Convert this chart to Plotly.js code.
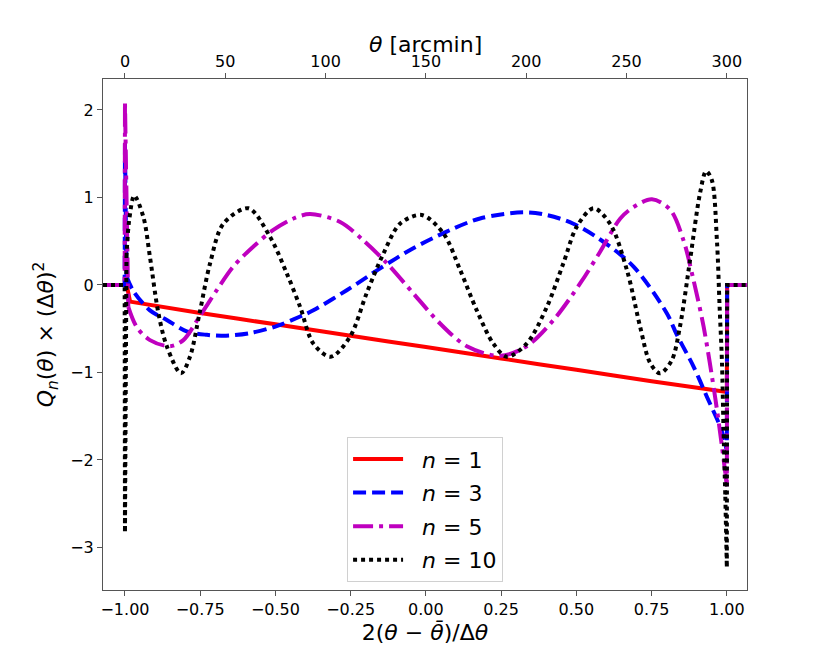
<!DOCTYPE html>
<html>
<head>
<meta charset="utf-8">
<script src="https://cdn.plot.ly/plotly-3.0.1.min.js"></script>
<style>
  body { margin: 0; background: #fff; }
  #chart { width: 830px; height: 664px; }
</style>
</head>
<body>
<div id="chart"></div>
<script>
// values, x = 2(theta - mean)/dtheta
var n1X = [-1.073, -1.001, -1.0, -0.983, -0.75, -0.5, -0.25, 0, 0.25, 0.5, 0.75, 0.995, 1.0, 1.001, 1.067]
var n1Y = [0, 0, 0.1, -0.19, -0.32, -0.45, -0.58, -0.71, -0.84, -0.97, -1.10, -1.22, -1.22, 0, 0]

var n3X = [-1.073, -1.001, -1.0, -0.995, -0.972, -0.917, -0.861, -0.795, -0.728, -0.673, -0.585, -0.496,
           -0.418, -0.374, -0.263, -0.152, -0.042, 0.069, 0.18, 0.324, 0.402, 0.49, 0.579, 0.69, 0.80,
           0.834, 0.889, 0.934, 0.978, 0.995, 1.0, 1.001, 1.067]
var n3Y = [0, 0, 1.62, 0.10, -0.07, -0.29, -0.40, -0.53, -0.57, -0.58, -0.55, -0.47,
           -0.36, -0.29, -0.06, 0.19, 0.42, 0.61, 0.76, 0.83, 0.80, 0.70, 0.52, 0.21, -0.32,
           -0.57, -0.93, -1.28, -1.62, -1.81, -1.9, 0, 0]

var n5X = [-1.073, -1.001, -1.0, -0.989, -0.961, -0.917, -0.85, -0.806, -0.752, -0.695, -0.64, -0.573,
           -0.507, -0.44, -0.385, -0.285, -0.208, -0.13, -0.042, 0.047, 0.136, 0.247, 0.335, 0.424,
           0.513, 0.579, 0.646, 0.69, 0.751, 0.812, 0.856, 0.889, 0.923, 0.961, 0.984, 0.995, 1.0, 1.001, 1.067]
var n5Y = [0, 0, 2.09, -0.25, -0.48, -0.63, -0.70, -0.63, -0.36, -0.06, 0.21, 0.44,
           0.63, 0.76, 0.81, 0.72, 0.51, 0.25, -0.095, -0.44, -0.70, -0.81, -0.70, -0.40,
           0.02, 0.38, 0.76, 0.89, 0.98, 0.86, 0.51, 0.06, -0.48, -1.28, -1.85, -2.15, -2.3, 0, 0]

var n10X = [-1.073, -1.001, -1.0, -0.995, -0.986, -0.969, -0.939, -0.917, -0.889, -0.861, -0.814, -0.784,
            -0.752, -0.717, -0.673, -0.59, -0.518, -0.462, -0.418, -0.374, -0.316, -0.252, -0.197, -0.141,
            -0.086, -0.014, 0.058, 0.114, 0.169, 0.224, 0.269, 0.335, 0.402, 0.457, 0.502, 0.557, 0.612,
            0.668, 0.712, 0.745, 0.778, 0.817, 0.844, 0.878, 0.911, 0.931, 0.950, 0.967, 0.976, 0.984,
            0.989, 0.995, 1.0, 1.001, 1.067]
var n10Y = [0, 0, -2.83, 0.32, 0.74, 1.02, 0.78, 0.32, -0.32, -0.70, -1.01, -0.82,
            -0.32, 0.25, 0.70, 0.876, 0.55, 0.13, -0.25, -0.67, -0.82, -0.59, -0.095, 0.36,
            0.70, 0.80, 0.59, 0.17, -0.29, -0.67, -0.82, -0.67, -0.25, 0.25, 0.67, 0.876, 0.70,
            0.17, -0.48, -0.89, -1.01, -0.86, -0.48, 0.29, 1.05, 1.30, 1.20, 0.51, -0.25, -0.9,
            -1.66, -2.42, -3.23, 0, 0]

var xTicks = [-1, -0.75, -0.5, -0.25, 0, 0.25, 0.5, 0.75, 1]
var yTicks = [-3, -2, -1, 0, 1, 2]
var thetaTicks = [0, 50, 100, 150, 200, 250, 300]

var font = "DejaVu Sans, Arial, sans-serif"
var axisCol = "#555"
var pad = "\u00a0\u00a0"

// each curve: straight jumps at both ends, smooth in between
function series(x, y, name, color, dash) {
    var n = x.length
    var line = { color: color, width: 4, dash: dash }
    var smooth = Object.assign({}, line, { shape: "spline", smoothing: 0.9 })
    return [
        { type: "scatter", mode: "lines", x: x.slice(3, n - 3), y: y.slice(3, n - 3),
          name: pad + name, legendgroup: name, line: smooth },
        { type: "scatter", mode: "lines", x: x.slice(0, 4), y: y.slice(0, 4),
          name: name, legendgroup: name, showlegend: false, line: line },
        { type: "scatter", mode: "lines", x: x.slice(n - 4), y: y.slice(n - 4),
          name: name, legendgroup: name, showlegend: false, line: line },
    ]
}

function axisStyle() {
    return {
        showgrid: false,
        zeroline: false,
        showline: true,
        linecolor: axisCol,
        linewidth: 1,
        ticks: "outside",
        ticklen: 5,
        tickcolor: axisCol,
        tickfont: { size: 16 },
    }
}

var xaxis = Object.assign(axisStyle(), {
    range: [-1.073, 1.067],
    tickvals: xTicks,
    tickformat: ".2f",
    title: { text: "2(<i>θ</i> − <i>θ̄</i>)/Δ<i>θ</i>", font: { size: 22 }, standoff: 6 },
})
var xaxis2 = Object.assign(axisStyle(), {
    overlaying: "x",
    side: "top",
    anchor: "y",
    range: [-10.95, 310.05],
    tickvals: thetaTicks,
})
var yaxis = Object.assign(axisStyle(), {
    range: [-3.486, 2.354],
    tickvals: yTicks,
    mirror: true,
    title: { text: "<i>Q<sub>n</sub></i>(<i>θ</i>) × (Δ<i>θ</i>)<sup>2</sup>", font: { size: 22 }, standoff: 10 },
})

var traces = [].concat(
    series(n1X, n1Y, "<i>n</i> = 1", "#ff0000", "solid"),
    series(n3X, n3Y, "<i>n</i> = 3", "#0000ff", "13px,6px"),
    series(n5X, n5Y, "<i>n</i> = 5", "#bf00bf", "20px,6px,4px,6px"),
    series(n10X, n10Y, "<i>n</i> = 10", "#000000", "4px,4px"),
    // empty trace so that the top theta axis gets drawn
    [{
        type: "scatter", mode: "lines", xaxis: "x2", yaxis: "y",
        x: thetaTicks, y: thetaTicks.map(function () { return null }),
        showlegend: false, hoverinfo: "skip",
    }]
)

Plotly.newPlot(
    document.getElementById("chart"),
    traces,
    {
        width: 830,
        height: 664,
        margin: { l: 103, r: 83, t: 79, b: 74 },
        paper_bgcolor: "#fff",
        plot_bgcolor: "#fff",
        font: { family: font, size: 16, color: "#000" },
        showlegend: true,
        legend: {
            x: 0.379,
            y: 0.299,
            xanchor: "left",
            yanchor: "top",
            bgcolor: "rgba(255,255,255,0.8)",
            bordercolor: "#d0d0d0",
            borderwidth: 1,
            itemwidth: 50,
            tracegroupgap: 2,
            font: { family: font, size: 22 },
        },
        annotations: [{
            text: "<i>θ</i> [arcmin]",
            font: { family: font, size: 22 },
            showarrow: false,
            x: 0.5,
            y: 1.068,
            xref: "paper",
            yref: "paper",
            xanchor: "center",
            yanchor: "middle",
        }],
        xaxis: xaxis,
        xaxis2: xaxis2,
        yaxis: yaxis,
    },
    { displayModeBar: false, staticPlot: true }
)
</script>
</body>
</html>
